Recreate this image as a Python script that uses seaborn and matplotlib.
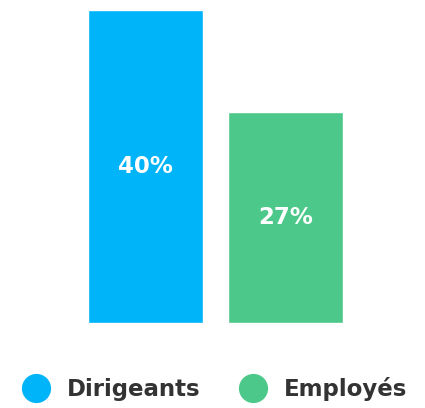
import pandas as pd
import matplotlib.pyplot as plt
import seaborn as sns
from matplotlib.lines import Line2D

# Chart data
categories = ["Dirigeants", "Employés"]
values = [40, 27]
colors = ["#00B4FA", "#4CC98A"]

df = pd.DataFrame({"groupe": categories, "pct": values})

sns.set_style("white")
plt.rcParams['font.family'] = ['DejaVu Sans']

fig = plt.figure(figsize=(4.25, 4.08), dpi=100)
ax = fig.add_axes([0.207, 0.208, 0.6, 0.767])

sns.barplot(data=df, x="groupe", y="pct", hue="groupe", palette=colors,
            width=0.82, legend=False, ax=ax, saturation=1)

ax.set_xlim(-0.41, 1.41)
ax.set_ylim(0, 40)
ax.axis("off")

# Percent labels in the middle of each bar
for i, v in enumerate(values):
    ax.text(i, v / 2, f"{v}%", ha="center", va="center",
            color="white", fontsize=16.5, fontweight="bold")

# Legend with round markers
handles = [Line2D([0], [0], marker="o", linestyle="", markersize=20,
                  markerfacecolor=c, markeredgecolor=c) for c in colors]
fig.legend(handles, categories, loc="center", bbox_to_anchor=(0.494, 0.047),
           ncol=2, frameon=False, handletextpad=0.35, columnspacing=1.3,
           prop={"weight": "bold", "size": 16.5}, labelcolor="#333333")

plt.savefig("out.png", dpi=100)
plt.close()
